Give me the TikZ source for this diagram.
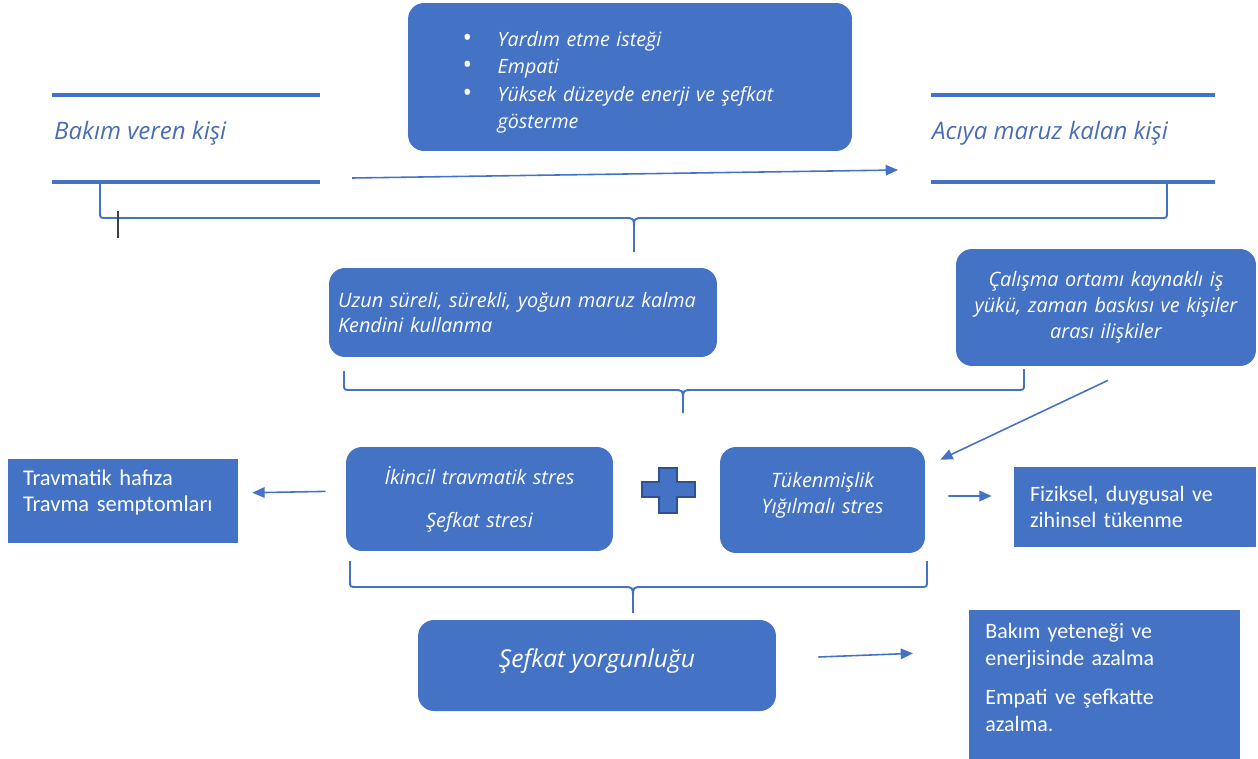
\documentclass[tikz,border=0pt]{standalone}
\usepackage{fontspec}
\setmainfont{Carlito}
\newfontfamily\egik{Open Sans}
\usetikzlibrary{arrows.meta,positioning}
\definecolor{ofismavi}{HTML}{4472C4}
\definecolor{koyumavi}{HTML}{2F528F}
\definecolor{baslikmavi}{HTML}{4A6DB2}
\tikzset{
    %Ok ucu
    >={Triangle[length=7pt,width=6pt]},
    %Yuvarlak koseli kutular
    yuvarlak/.style={
           rectangle,
           rounded corners=0.32cm,
           fill=ofismavi,
           text=white,
           font=\egik\itshape\fontsize{11.3}{14.7}\selectfont},
    %Duz kutular
    duz/.style={
           rectangle,
           fill=ofismavi,
           text=white,
           font=\fontsize{12.5}{15.3}\selectfont},
    %Baslik yazilari
    baslik/.style={
           text=baslikmavi,
           font=\egik\itshape\fontsize{13.7}{16}\selectfont},
    % Cizgi ve ok stilleri
    cizgi/.style={ofismavi, line width=2.8pt},
    ayrac/.style={ofismavi, line width=1.1pt},
    ok/.style={->, ofismavi, line width=0.9pt}
}
\begin{document}
\begin{tikzpicture}[x=0.02cm, y=-0.02cm]
    \useasboundingbox (0,0) rectangle (1258,758);
    % ust kisim
    \node[baslik, anchor=west] (bakan) at (48,133) {Bakım veren kişi};
    \node[baslik, anchor=west] (aciya) at (926,133) {Acıya maruz kalan kişi};
    \draw[cizgi] (52,95) -- (320,95);
    \draw[cizgi] (52,182) -- (320,182);
    \draw[cizgi] (931,95) -- (1215,95);
    \draw[cizgi] (931,182) -- (1215,182);
    \node[yuvarlak, minimum width=8.88cm, minimum height=2.96cm, text width=6.7cm, align=left,
          font=\egik\itshape\fontsize{11.2}{15.7}\selectfont] (ozellik) at (630,77)
        {\rule{0pt}{14.5pt}\makebox[20pt][l]{\upshape\Large\textbullet}Yardım etme isteği\\
         \makebox[20pt][l]{\upshape\Large\textbullet}Empati\\
         \makebox[20pt][l]{\upshape\Large\textbullet}Yüksek düzeyde enerji ve şefkat\\
         \hspace*{20pt}gösterme};
    \coordinate (okbas) at (352,178);
    \coordinate (okson) at (898,170);
    \draw[ok] (okbas) -- (okson);
    % birinci ayrac
    \coordinate (ayrac1) at (634,252);
    \draw[ayrac] (100,184) -- (100,212) .. controls (100,218) .. (107,218) -- (624,218)
        .. controls (634,218) .. (634,230) -- (ayrac1);
    \draw[ayrac] (1167,184) -- (1167,212) .. controls (1167,218) .. (1160,218) -- (644,218)
        .. controls (634,218) .. (634,230);
    \draw[black!75, line width=0.8pt] (118,211) -- (118,238);
    % ikinci satir
    \node[yuvarlak, minimum width=7.76cm, minimum height=1.78cm, text width=7.4cm, align=left] (maruz) at (523,312.5)
        {Uzun süreli, sürekli, yoğun maruz kalma\\Kendini kullanma};
    \node[yuvarlak, minimum width=6cm, minimum height=2.34cm, text width=5.6cm, align=center] (ortam) at (1106,307.5)
        {Çalışma ortamı kaynaklı iş\\yükü, zaman baskısı ve kişiler\\arası ilişkiler};
    \coordinate (ayrac2) at (683,413);
    \draw[ayrac] (344,371) -- (344,384) .. controls (344,390) .. (351,390) -- (673,390)
        .. controls (683,390) .. (683,400) -- (ayrac2);
    \draw[ayrac] (1024,369) -- (1024,384) .. controls (1024,390) .. (1017,390) -- (693,390)
        .. controls (683,390) .. (683,400);
    % ucuncu satir
    \node[yuvarlak, minimum width=5.34cm, minimum height=2.08cm, text width=5cm, align=center] (ikincil) at (479.5,499)
        {İkincil travmatik stres\\[9.7pt]Şefkat stresi};
    \node[yuvarlak, minimum width=4.1cm, minimum height=2.12cm, text width=3.8cm, align=center] (tukenmis) at (822.5,500)
        {Tükenmişlik\\Yığılmalı stres\rule[-8pt]{0pt}{8pt}};
    \filldraw[fill=ofismavi, draw=koyumavi, line width=0.9pt] (659,468) -- (677,468) -- (677,482) -- (695,482)
        -- (695,497) -- (677,497) -- (677,513) -- (659,513) -- (659,497) -- (642,497) -- (642,482) -- (659,482) -- cycle;
    \node[duz, minimum width=4.6cm, minimum height=1.68cm, text width=4cm, align=left,
          font=\fontsize{12.8}{14.5}\selectfont] (travma) at (123,501)
        {Travmatik hafıza\\Travma semptomları\rule[-12pt]{0pt}{12pt}};
    \node[duz, minimum width=4.84cm, minimum height=1.6cm, text width=4.2cm, align=left] (fiziksel) at (1135,507)
        {Fiziksel, duygusal ve\\zihinsel tükenme};
    \draw[ok] ([yshift=0.16cm]ikincil.west) -- ([yshift=0.16cm]travma.east)
        [shorten <=0.4cm, shorten >=0.28cm];
    \draw[ok, shorten <=0.46cm, shorten >=0.44cm] ([yshift=0.08cm]tukenmis.east) -- ([yshift=0.22cm]fiziksel.west);
    \draw[ok] ([xshift=0.04cm,yshift=-0.28cm]ortam.south) -- ([xshift=0.3cm,yshift=-0.26cm]tukenmis.north east);
    % son ayrac
    \coordinate (ayrac3) at (633,613);
    \draw[ayrac] (350,561) -- (350,581) .. controls (350,587) .. (357,587) -- (623,587)
        .. controls (633,587) .. (633,598) -- (ayrac3);
    \draw[ayrac] (927,561) -- (927,581) .. controls (927,587) .. (920,587) -- (643,587)
        .. controls (633,587) .. (633,598);
    % alt satir
    \node[yuvarlak, minimum width=7.16cm, minimum height=1.82cm, font=\egik\itshape\fontsize{14}{16}\selectfont] (yorgunluk) at (597,665.5)
        {Şefkat yorgunluğu\rule[-8.5pt]{0pt}{8.5pt}};
    \node[duz, anchor=north west, minimum width=5.42cm, minimum height=3cm, text width=4.78cm, align=left] (azalma) at (969,610)
        {Bakım yeteneği ve\\enerjisinde azalma\\[6.8pt]Empati ve şefkatte\\azalma.\rule[-9pt]{0pt}{9pt}};
    \draw[ok] ([xshift=0.84cm,yshift=0.17cm]yorgunluk.east) -- ([xshift=-1.12cm,yshift=0.64cm]azalma.west);
\end{tikzpicture}
\end{document}
